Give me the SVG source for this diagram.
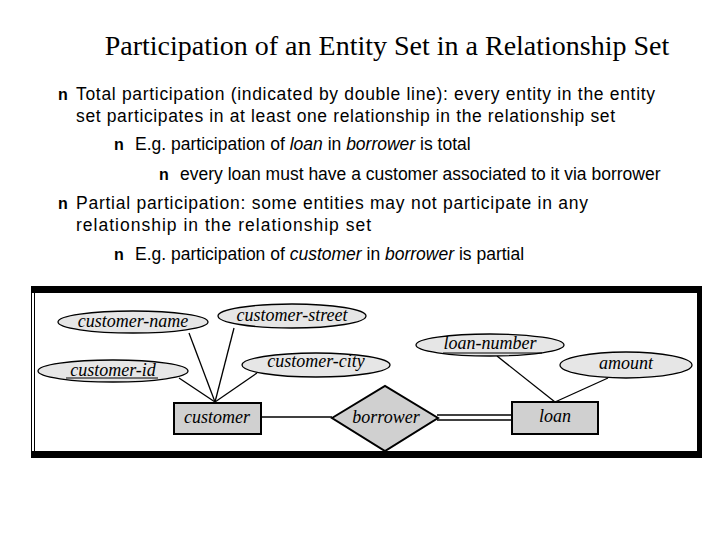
<svg xmlns="http://www.w3.org/2000/svg" width="720" height="540" viewBox="0 0 720 540">
<style>
.t{font-family:"Liberation Sans",Arial,sans-serif;font-size:17.5px;fill:#000}
.b{font-family:"Liberation Sans",Arial,sans-serif;font-size:16px;font-weight:bold}
.e{fill:#e6e6e6;stroke:#000;stroke-width:1.3}
.r{fill:#d0d0d0;stroke:#000;stroke-width:2}
.l{font-family:"Liberation Serif","Times New Roman",serif;font-style:italic;font-size:18px;text-anchor:middle}
.c{stroke:#000;stroke-width:1.3;fill:none}
</style>
<rect width="720" height="540" fill="#fff"/>
<text x="387" y="55" text-anchor="middle" font-family="Liberation Serif,Times New Roman,serif" font-size="28">Participation of an Entity Set in a Relationship Set</text>
<text class="b" x="58" y="100">n</text><text class="t" x="76" y="100" textLength="579" lengthAdjust="spacing">Total participation (indicated by double line):  every entity in the entity</text>
<text class="t" x="76" y="122" textLength="539" lengthAdjust="spacing">set participates in at least one relationship in the relationship set</text>
<text class="b" x="114" y="150">n</text><text class="t" x="135" y="150">E.g. participation of <tspan font-style="italic">loan</tspan> in <tspan font-style="italic">borrower</tspan> is total</text>
<text class="b" x="159" y="180">n</text><text class="t" x="180" y="180">every loan must have a customer associated to it via borrower</text>
<text class="b" x="58" y="209">n</text><text class="t" x="76" y="209" textLength="512" lengthAdjust="spacing">Partial participation:  some entities may not participate in any</text>
<text class="t" x="76" y="231" textLength="295" lengthAdjust="spacing">relationship in the relationship set</text>
<text class="b" x="114" y="260">n</text><text class="t" x="135" y="260">E.g. participation of <tspan font-style="italic">customer</tspan> in <tspan font-style="italic">borrower</tspan> is partial</text>
<g id="frame">
<rect x="31" y="286" width="671" height="7" fill="#000"/>
<rect x="31" y="451" width="671" height="7" fill="#000"/>
<rect x="697" y="286" width="5" height="172" fill="#000"/>
<line x1="31.5" y1="286" x2="31.5" y2="458" stroke="#000" stroke-width="1"/>
<line x1="34.5" y1="286" x2="34.5" y2="458" stroke="#000" stroke-width="1"/>
</g>
<g id="connectors">
<line class="c" x1="189" y1="333" x2="215" y2="402"/>
<line class="c" x1="234" y1="328" x2="215" y2="402"/>
<line class="c" x1="179" y1="378" x2="215" y2="402"/>
<line class="c" x1="257" y1="373" x2="215" y2="402"/>
<line class="c" x1="261" y1="417" x2="332" y2="417"/>
<line class="c" x1="437" y1="415" x2="512" y2="415"/>
<line class="c" x1="437" y1="420" x2="512" y2="420"/>
<line class="c" x1="497" y1="356" x2="555" y2="402"/>
<line class="c" x1="608" y1="378" x2="555" y2="402"/>
</g>
<g id="customer-name"><ellipse class="e" cx="133" cy="322" rx="75" ry="11"/><text class="l" x="133" y="327">customer-name</text></g>
<g id="customer-street"><ellipse class="e" cx="292" cy="316" rx="74" ry="12"/><text class="l" x="292" y="321">customer-street</text></g>
<g id="customer-id"><ellipse class="e" cx="113" cy="371" rx="75" ry="11"/><text class="l" x="113" y="376">customer-id</text><line x1="66" y1="378" x2="158" y2="378" stroke="#000" stroke-width="1"/></g>
<g id="customer-city"><ellipse class="e" cx="316" cy="365" rx="74" ry="12"/><text class="l" x="316" y="367">customer-city</text></g>
<g id="customer"><rect class="r" x="174" y="403" width="87" height="31"/><text class="l" x="217" y="423">customer</text></g>
<g id="borrower"><polygon class="r" points="332,418 385,386 438,418 385,451" stroke-width="1.3"/><text class="l" x="386" y="423">borrower</text></g>
<g id="loan"><rect class="r" x="512" y="402" width="86" height="32"/><text class="l" x="555" y="422">loan</text></g>
<g id="loan-number"><ellipse class="e" cx="490" cy="345" rx="74" ry="11"/><text class="l" x="490" y="349">loan-number</text><line x1="443" y1="353" x2="542" y2="353" stroke="#000" stroke-width="1"/></g>
<g id="amount"><ellipse class="e" cx="626" cy="365" rx="66" ry="13"/><text class="l" x="626" y="369">amount</text></g>
</svg>
